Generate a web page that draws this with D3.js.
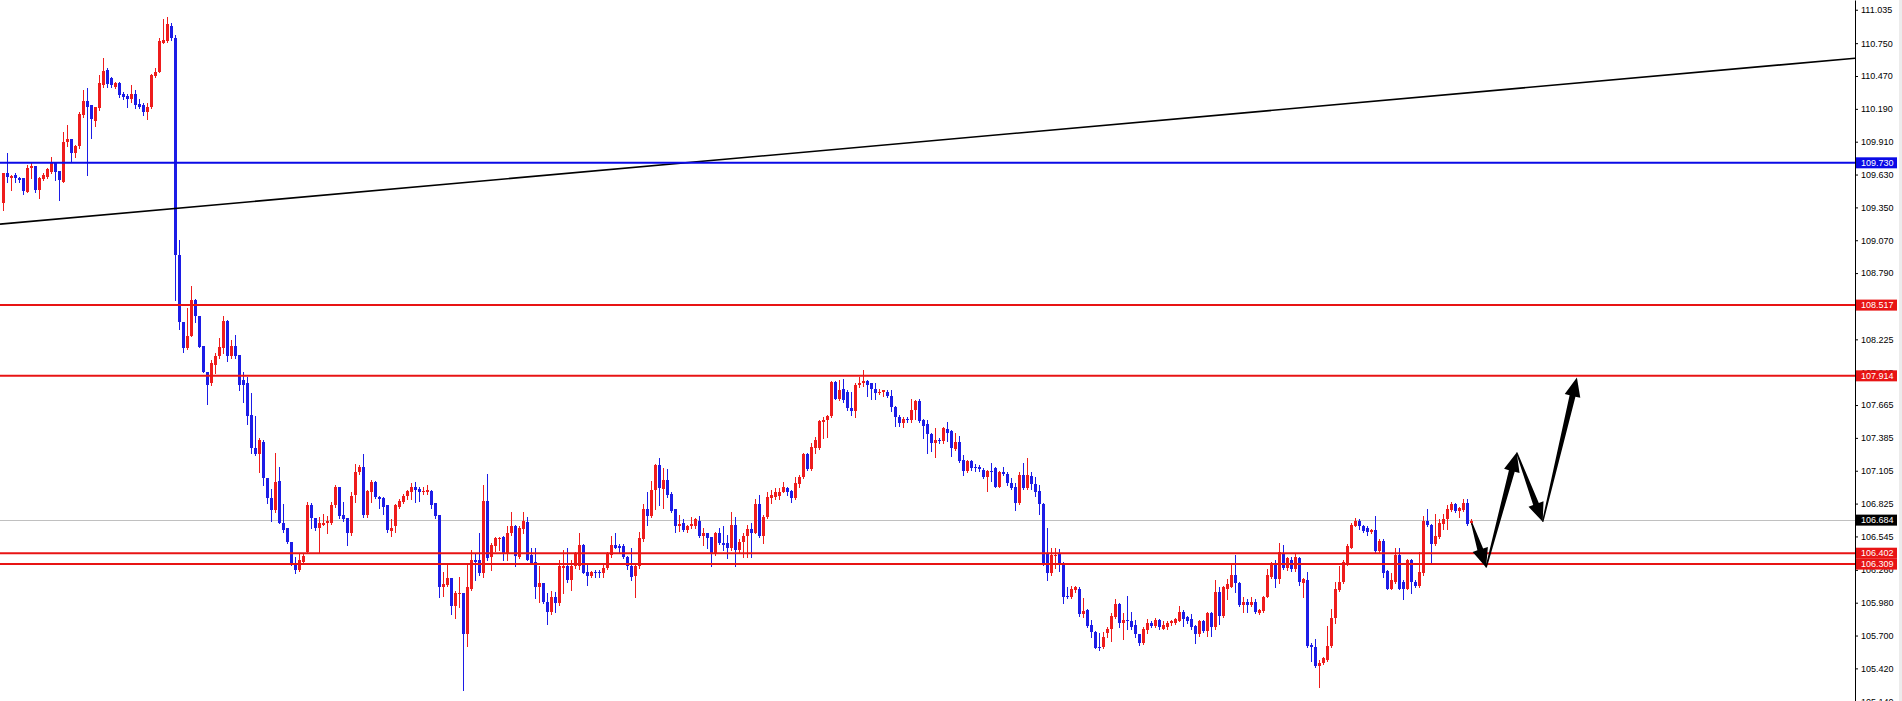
<!DOCTYPE html>
<html>
<head>
<meta charset="utf-8">
<title>USDJPY H4</title>
<script src="https://cdn.jsdelivr.net/npm/d3@7"></script>
<style>
  body { margin: 0; background: #fff; overflow: hidden; }
  svg text { font-family: "Liberation Sans", Arial, sans-serif; font-size: 9px; }
</style>
</head>
<body>
<svg id="chart" width="1902" height="701"></svg>
<script>
// candle values, one per bar, oldest first
var candleOpen = [
  109.39,109.64,109.60,109.63,109.60,109.60,109.48,109.69,109.70,109.50,
  109.59,109.61,109.65,109.74,109.66,109.57,109.91,109.93,109.81,109.87,
  110.14,110.26,110.22,110.09,110.20,110.39,110.52,110.45,110.38,110.41,
  110.32,110.30,110.27,110.32,110.23,110.22,110.16,110.21,110.47,110.50,
  110.75,110.77,110.90,110.79,108.94,108.37,108.15,108.25,108.56,108.42,
  108.17,107.95,107.85,108.01,108.08,108.15,108.38,108.08,108.17,108.09,
  107.88,107.85,107.58,107.30,107.25,107.35,107.04,106.87,106.77,107.02,
  106.66,106.62,106.50,106.32,106.26,106.33,106.41,106.81,106.70,106.62,
  106.64,106.66,106.66,106.81,106.97,106.73,106.70,106.57,106.90,107.09,
  107.14,106.73,106.92,107.01,106.88,106.87,106.81,106.59,106.63,106.80,
  106.84,106.89,106.92,106.97,106.95,106.92,106.92,106.93,106.83,106.73,
  106.11,106.13,106.19,105.95,106.05,106.06,105.71,106.10,106.34,106.34,
  106.23,106.85,106.37,106.46,106.52,106.54,106.40,106.57,106.63,106.37,
  106.61,106.67,106.39,106.33,106.11,106.15,105.99,105.90,106.03,105.98,
  106.28,106.29,106.17,106.29,106.29,106.47,106.24,106.21,106.24,106.24,
  106.23,106.28,106.39,106.47,106.46,106.46,106.37,106.29,106.21,106.29,
  106.52,106.78,106.72,106.94,107.15,106.95,107.03,106.91,106.78,106.63,
  106.66,106.60,106.63,106.63,106.68,106.55,106.57,106.54,106.40,106.57,
  106.49,106.49,106.45,106.64,106.43,106.50,106.55,106.61,106.57,106.82,
  106.55,106.71,106.87,106.88,106.89,106.92,106.96,106.93,106.87,106.99,
  107.05,107.25,107.12,107.30,107.30,107.52,107.54,107.57,107.86,107.72,
  107.80,107.78,107.64,107.61,107.84,107.85,107.87,107.85,107.80,107.77,
  107.78,107.78,107.74,107.65,107.56,107.51,107.55,107.54,107.62,107.70,
  107.54,107.50,107.42,107.34,107.37,107.36,107.46,107.44,107.29,107.35,
  107.20,107.10,107.19,107.14,107.14,107.11,107.05,107.10,107.13,106.97,
  107.09,107.08,107.00,106.97,106.83,107.07,106.96,107.06,106.99,106.93,
  106.82,106.40,106.23,106.38,106.40,106.32,106.04,106.03,106.09,106.10,
  105.88,105.92,105.79,105.73,105.60,105.60,105.72,105.76,105.86,105.97,
  105.81,105.83,105.82,105.79,105.71,105.64,105.75,105.81,105.78,105.83,
  105.76,105.77,105.81,105.81,105.82,105.90,105.86,105.84,105.78,105.71,
  105.82,105.74,105.89,105.77,106.07,105.87,106.10,106.11,106.22,106.15,
  105.96,105.99,105.96,105.99,105.89,105.91,106.03,106.20,106.32,106.18,
  106.40,106.28,106.34,106.27,106.36,106.15,106.17,105.62,105.60,105.44,
  105.47,105.49,105.61,105.85,106.09,106.16,106.32,106.45,106.63,106.68,
  106.63,106.62,106.58,106.60,106.42,106.51,106.25,106.10,106.16,106.39,
  106.16,106.10,106.34,106.16,106.12,106.23,106.68,106.64,106.48,106.54,
  106.65,106.69,106.77,106.82,106.76,106.77,106.83,106.66
];
var candleHigh = [
  109.64,109.81,109.63,109.64,109.61,109.60,109.71,109.74,109.70,109.61,
  109.64,109.69,109.78,109.74,109.66,109.99,110.05,109.93,109.88,110.16,
  110.35,110.37,110.22,110.21,110.48,110.62,110.54,110.46,110.42,110.42,
  110.33,110.32,110.39,110.35,110.27,110.24,110.24,110.49,110.54,110.79,
  110.96,110.97,110.92,110.82,109.07,108.37,108.49,108.68,108.57,108.42,
  108.17,107.95,108.05,108.11,108.24,108.42,108.39,108.22,108.26,108.09,
  107.95,107.90,107.77,107.57,107.38,107.37,107.04,106.95,107.26,107.14,
  106.82,106.62,106.50,106.37,106.40,106.40,106.84,106.83,106.70,106.71,
  106.74,106.72,106.84,106.98,106.97,106.84,106.70,106.92,107.16,107.15,
  107.25,106.94,107.03,107.02,106.89,106.88,106.81,106.69,106.82,106.86,
  106.91,106.94,107.00,107.01,106.97,106.97,106.98,106.94,106.83,106.73,
  106.24,106.31,106.19,106.08,106.20,106.06,106.32,106.43,106.40,106.57,
  106.98,107.08,106.49,106.54,106.54,106.55,106.63,106.75,106.64,106.63,
  106.75,106.71,106.45,106.45,106.29,106.15,106.06,106.08,106.07,106.34,
  106.43,106.45,106.34,106.41,106.57,106.48,106.32,106.25,106.26,106.26,
  106.32,106.41,106.55,106.57,106.48,106.48,106.38,106.45,106.30,106.58,
  106.82,106.92,107.02,107.16,107.21,107.13,107.12,106.92,106.78,106.73,
  106.69,106.64,106.71,106.70,106.72,106.62,106.57,106.54,106.58,106.62,
  106.63,106.56,106.75,106.71,106.52,106.57,106.64,106.66,106.86,106.90,
  106.73,106.92,106.94,106.96,106.96,107.01,106.97,106.94,107.05,107.07,
  107.26,107.26,107.34,107.39,107.54,107.56,107.58,107.87,107.87,107.88,
  107.89,107.79,107.78,107.85,107.90,107.96,107.88,107.85,107.85,107.80,
  107.79,107.79,107.79,107.66,107.58,107.56,107.56,107.72,107.71,107.72,
  107.55,107.54,107.43,107.47,107.38,107.48,107.52,107.45,107.43,107.40,
  107.24,107.20,107.20,107.16,107.15,107.13,107.11,107.17,107.14,107.10,
  107.14,107.09,107.04,107.00,107.09,107.17,107.21,107.09,107.05,106.98,
  106.83,106.62,106.45,106.45,106.44,106.33,106.11,106.12,106.12,106.11,
  106.02,105.93,105.83,105.74,105.72,105.73,105.77,105.89,106.01,105.98,
  105.89,106.04,105.90,105.83,105.71,105.77,105.84,105.82,105.85,105.84,
  105.82,105.82,105.83,105.85,105.95,105.92,105.87,105.88,105.79,105.83,
  105.83,105.90,105.90,106.17,106.11,106.12,106.18,106.32,106.39,106.16,
  106.03,106.01,106.03,106.01,105.93,106.04,106.27,106.33,106.34,106.49,
  106.47,106.37,106.37,106.40,106.37,106.19,106.24,105.64,105.67,105.49,
  105.52,105.78,105.93,106.16,106.29,106.34,106.48,106.66,106.70,106.69,
  106.64,106.63,106.61,106.72,106.52,106.52,106.26,106.23,106.45,106.45,
  106.17,106.35,106.35,106.17,106.41,106.72,106.78,106.65,106.74,106.69,
  106.74,106.81,106.84,106.83,106.80,106.86,106.86,106.69
];
var candleLow = [
  109.33,109.57,109.50,109.57,109.57,109.46,109.48,109.60,109.48,109.43,
  109.58,109.60,109.64,109.58,109.41,109.57,109.87,109.74,109.78,109.86,
  110.12,109.63,109.94,110.04,110.18,110.38,110.38,110.38,110.37,110.29,
  110.27,110.21,110.25,110.20,110.20,110.14,110.10,110.20,110.46,110.50,
  110.75,110.76,110.78,108.56,108.31,108.12,108.14,108.25,108.37,108.16,
  107.95,107.67,107.84,107.94,108.07,108.11,108.04,108.07,108.07,107.79,
  107.69,107.50,107.26,107.24,107.09,106.98,106.83,106.68,106.75,106.66,
  106.58,106.49,106.30,106.23,106.25,106.32,106.40,106.62,106.60,106.41,
  106.64,106.57,106.65,106.80,106.70,106.68,106.47,106.56,106.84,107.08,
  106.71,106.71,106.84,106.87,106.79,106.74,106.58,106.55,106.58,106.79,
  106.83,106.86,106.86,106.84,106.85,106.91,106.91,106.79,106.70,106.03,
  106.04,106.12,105.88,105.85,105.94,105.24,105.61,106.09,106.17,106.22,
  106.20,106.34,106.26,106.42,106.43,106.34,106.34,106.56,106.29,106.36,
  106.57,106.34,106.32,106.02,105.99,105.98,105.80,105.88,105.90,105.96,
  106.06,106.16,106.09,106.28,106.27,106.23,106.13,106.20,106.20,106.20,
  106.20,106.27,106.37,106.45,106.41,106.36,106.27,106.17,106.03,106.28,
  106.51,106.64,106.71,106.78,106.81,106.79,106.88,106.75,106.58,106.59,
  106.59,106.58,106.62,106.62,106.54,106.47,106.45,106.29,106.39,106.48,
  106.43,106.36,106.43,106.29,106.40,106.37,106.37,106.37,106.57,106.54,
  106.49,106.70,106.83,106.86,106.86,106.92,106.90,106.84,106.86,106.97,
  107.04,107.11,107.11,107.26,107.29,107.38,107.39,107.56,107.72,107.71,
  107.69,107.62,107.58,107.56,107.82,107.83,107.74,107.72,107.72,107.76,
  107.74,107.73,107.61,107.49,107.49,107.48,107.52,107.52,107.55,107.52,
  107.38,107.26,107.27,107.22,107.34,107.34,107.36,107.23,107.28,107.18,
  107.07,107.09,107.11,107.10,107.10,107.04,106.93,107.02,106.97,106.97,
  107.07,106.98,106.95,106.77,106.82,106.95,106.95,106.95,106.89,106.74,
  106.30,106.17,106.22,106.28,106.25,105.98,106.02,106.02,106.07,105.87,
  105.86,105.77,105.69,105.59,105.58,105.59,105.69,105.65,105.85,105.77,
  105.67,105.76,105.76,105.69,105.62,105.63,105.72,105.77,105.77,105.76,
  105.76,105.76,105.79,105.80,105.82,105.78,105.81,105.76,105.64,105.70,
  105.73,105.70,105.70,105.76,105.80,105.86,106.01,106.11,106.07,105.95,
  105.90,105.90,105.95,105.89,105.88,105.90,106.03,106.19,106.11,106.15,
  106.27,106.26,106.25,106.25,106.13,106.03,105.60,105.48,105.43,105.26,
  105.46,105.48,105.60,105.81,106.08,106.15,106.30,106.45,106.63,106.61,
  106.58,106.56,106.57,106.40,106.41,106.20,106.10,106.10,106.15,106.10,
  106.01,106.10,106.06,106.11,106.11,106.22,106.63,106.32,106.47,106.53,
  106.61,106.61,106.76,106.75,106.71,106.76,106.64,106.65
];
var candleClose = [
  109.64,109.61,109.62,109.60,109.58,109.49,109.69,109.70,109.50,109.60,
  109.63,109.68,109.74,109.65,109.58,109.91,109.93,109.81,109.87,110.15,
  110.26,110.21,110.10,110.21,110.41,110.51,110.40,110.39,110.41,110.31,
  110.29,110.27,110.32,110.22,110.21,110.16,110.21,110.48,110.50,110.77,
  110.78,110.91,110.79,108.94,108.37,108.15,108.25,108.56,108.42,108.16,
  107.95,107.84,108.02,108.08,108.16,108.38,108.08,108.17,108.08,107.84,
  107.84,107.57,107.30,107.25,107.37,107.04,106.87,106.77,107.01,106.66,
  106.60,106.50,106.32,106.26,106.34,106.38,106.81,106.70,106.62,106.66,
  106.66,106.68,106.81,106.97,106.72,106.69,106.57,106.89,107.09,107.14,
  106.73,106.93,107.01,106.88,106.86,106.80,106.60,106.62,106.81,106.85,
  106.89,106.93,106.97,106.94,106.92,106.93,106.94,106.81,106.72,106.11,
  106.14,106.19,105.95,106.06,106.06,105.71,106.11,106.34,106.33,106.23,
  106.85,106.36,106.47,106.53,106.53,106.40,106.57,106.63,106.38,106.62,
  106.68,106.34,106.32,106.11,106.15,105.99,105.90,106.03,105.98,106.29,
  106.29,106.17,106.29,106.40,106.47,106.23,106.21,106.24,106.23,106.23,
  106.28,106.40,106.47,106.45,106.45,106.37,106.29,106.20,106.29,106.53,
  106.78,106.72,106.94,107.15,106.96,107.03,106.90,106.76,106.63,106.65,
  106.60,106.63,106.65,106.69,106.55,106.57,106.53,106.40,106.57,106.49,
  106.47,106.45,106.64,106.43,106.50,106.55,106.61,106.57,106.82,106.55,
  106.71,106.88,106.90,106.92,106.92,106.97,106.92,106.87,107.00,107.05,
  107.25,107.12,107.31,107.37,107.53,107.54,107.57,107.86,107.72,107.79,
  107.71,107.64,107.61,107.84,107.85,107.87,107.84,107.80,107.77,107.78,
  107.79,107.74,107.65,107.56,107.51,107.55,107.54,107.62,107.70,107.53,
  107.49,107.42,107.34,107.37,107.36,107.47,107.43,107.30,107.35,107.19,
  107.10,107.19,107.13,107.13,107.12,107.05,107.10,107.09,106.97,107.09,
  107.08,107.00,106.96,106.83,107.07,106.96,107.07,106.99,106.92,106.82,
  106.32,106.23,106.39,106.39,106.31,106.03,106.03,106.10,106.11,105.88,
  105.91,105.78,105.73,105.59,105.59,105.69,105.76,105.87,105.97,105.81,
  105.83,105.82,105.77,105.71,105.64,105.76,105.81,105.78,105.83,105.77,
  105.79,105.81,105.82,105.84,105.90,105.84,105.82,105.77,105.71,105.82,
  105.74,105.89,105.77,106.07,105.87,106.11,106.14,106.22,106.15,105.96,
  105.99,105.96,105.99,105.90,105.92,106.03,106.22,106.32,106.18,106.41,
  106.28,106.36,106.27,106.37,106.16,106.18,105.61,105.60,105.44,105.47,
  105.51,105.61,105.85,106.10,106.16,106.33,106.46,106.64,106.68,106.63,
  106.59,106.58,106.60,106.42,106.51,106.23,106.10,106.17,106.39,106.10,
  106.10,106.34,106.16,106.12,106.24,106.68,106.64,106.48,106.55,106.66,
  106.69,106.78,106.82,106.76,106.79,106.83,106.65,106.68
];

// price scale labels
var tickLabels = ["111.035","110.750","110.470","110.190","109.910","109.630","109.350",
  "109.070","108.790","108.510","108.225","107.945","107.665","107.385","107.105",
  "106.825","106.545","106.260","105.980","105.700","105.420","105.140"];

// drawn objects
var blueLevels = [109.730];
var redLevels = [108.517, 107.914, 106.402, 106.309];
var bidPrice = 106.684;
var trendLine = [[0, 109.21], [400, 110.43]];          // [bar index, price]
var arrowPath = [[367.1, 106.66], [370.7, 106.28], [378.35, 107.26], [384.85, 106.67], [393.4, 107.90]];

var W = 1902, H = 701, axisX = 1855;
var svg = d3.select("#chart");

var x = d3.scaleLinear().domain([0, 463]).range([3.3, 3.3 + 4 * 463]);
var y = d3.scaleLinear().domain([105.142, 111.118]).range([H, 0]);

var candles = candleOpen.map(function(o, i) {
  return { i: i, o: o, h: candleHigh[i], l: candleLow[i], c: candleClose[i] };
});

var upColor = "#ee1c1c", downColor = "#1c1ce6";

svg.append("rect").attr("width", W).attr("height", H).attr("fill", "#fff");

var plot = svg.append("g");

// bid line
plot.append("line")
  .attr("x1", 0).attr("x2", axisX)
  .attr("y1", Math.round(y(bidPrice)) + 0.5).attr("y2", Math.round(y(bidPrice)) + 0.5)
  .attr("stroke", "#c0c0c0").attr("stroke-width", 1);

// candles
var cg = plot.append("g").attr("shape-rendering", "crispEdges");
cg.selectAll(".wick")
  .data(candles)
  .enter().append("line")
  .attr("class", "wick")
  .attr("x1", function(d) { return Math.round(x(d.i)) + 0.5; })
  .attr("x2", function(d) { return Math.round(x(d.i)) + 0.5; })
  .attr("y1", function(d) { return Math.round(y(d.h)); })
  .attr("y2", function(d) { return Math.round(y(d.l)) + 1; })
  .attr("stroke", function(d) { return d.c >= d.o ? upColor : downColor; })
  .attr("stroke-width", 1);

cg.selectAll(".body")
  .data(candles)
  .enter().append("rect")
  .attr("class", "body")
  .attr("x", function(d) { return Math.round(x(d.i)) - 1; })
  .attr("width", 3)
  .attr("y", function(d) { return Math.round(y(Math.max(d.o, d.c))); })
  .attr("height", function(d) {
    return Math.max(1, Math.round(y(Math.min(d.o, d.c))) - Math.round(y(Math.max(d.o, d.c))));
  })
  .attr("fill", function(d) { return d.c >= d.o ? upColor : downColor; });

// trend line, extended over the whole plot
var slope = (trendLine[1][1] - trendLine[0][1]) / (trendLine[1][0] - trendLine[0][0]);
var iLeft = x.invert(0), iRight = x.invert(axisX);
plot.append("line")
  .attr("x1", 0).attr("y1", y(trendLine[0][1] + slope * (iLeft - trendLine[0][0])))
  .attr("x2", axisX).attr("y2", y(trendLine[0][1] + slope * (iRight - trendLine[0][0])))
  .attr("stroke", "#000").attr("stroke-width", 1.6);

// horizontal levels
function levelLine(p, color) {
  plot.append("line")
    .attr("x1", 0).attr("x2", axisX)
    .attr("y1", y(p)).attr("y2", y(p))
    .attr("stroke", color).attr("stroke-width", 2);
}
blueLevels.forEach(function(p) { levelLine(p, "#0a0ae6"); });
redLevels.forEach(function(p) { levelLine(p, "#e81414"); });

// arrows
function arrow(a, b) {
  var x0 = x(a[0]), y0 = y(a[1]), x1 = x(b[0]), y1 = y(b[1]);
  var dx = x1 - x0, dy = y1 - y0, len = Math.sqrt(dx * dx + dy * dy);
  var ux = dx / len, uy = dy / len, nx = -uy, ny = ux;
  var headLen = 19, headW = 8, tailW = 0.7, neckW = 3;
  var bx = x1 - ux * headLen, by = y1 - uy * headLen;
  var pts = [
    [x0 + nx * tailW, y0 + ny * tailW],
    [bx + nx * neckW, by + ny * neckW],
    [bx + nx * headW, by + ny * headW],
    [x1, y1],
    [bx - nx * headW, by - ny * headW],
    [bx - nx * neckW, by - ny * neckW],
    [x0 - nx * tailW, y0 - ny * tailW]
  ];
  plot.append("polygon")
    .attr("points", pts.map(function(p) { return p.join(","); }).join(" "))
    .attr("fill", "#000");
}
for (var k = 0; k < arrowPath.length - 1; k++) arrow(arrowPath[k], arrowPath[k + 1]);

// price axis
svg.append("rect").attr("x", axisX).attr("y", 0).attr("width", W - axisX).attr("height", H).attr("fill", "#fff");
svg.append("rect").attr("x", 1899).attr("y", 0).attr("width", 3).attr("height", H).attr("fill", "#ececec");

var axis = svg.append("g")
  .attr("transform", "translate(" + axisX + ",0)")
  .call(d3.axisRight(y)
    .tickValues(tickLabels.map(Number))
    .tickFormat(function(d, i) { return tickLabels[i]; })
    .tickSize(3).tickSizeOuter(0).tickPadding(3));
axis.select(".domain").attr("stroke", "#000");
axis.selectAll("text").attr("fill", "#000").style("font-family", "'Liberation Sans', Arial, sans-serif").style("font-size", "9px");

// price tags on the scale
function priceTag(p, color, label) {
  var cy = y(p);
  svg.append("rect")
    .attr("x", axisX + 1).attr("y", cy - 5.5).attr("width", 41).attr("height", 11)
    .attr("fill", color);
  svg.append("text")
    .attr("x", axisX + 6).attr("y", cy).attr("dy", "0.34em")
    .attr("fill", "#fff")
    .text(label);
}
blueLevels.forEach(function(p) { priceTag(p, "#0a0ae6", p.toFixed(3)); });
redLevels.forEach(function(p) { priceTag(p, "#e81414", p.toFixed(3)); });
priceTag(bidPrice, "#000", bidPrice.toFixed(3));
</script>
</body>
</html>
